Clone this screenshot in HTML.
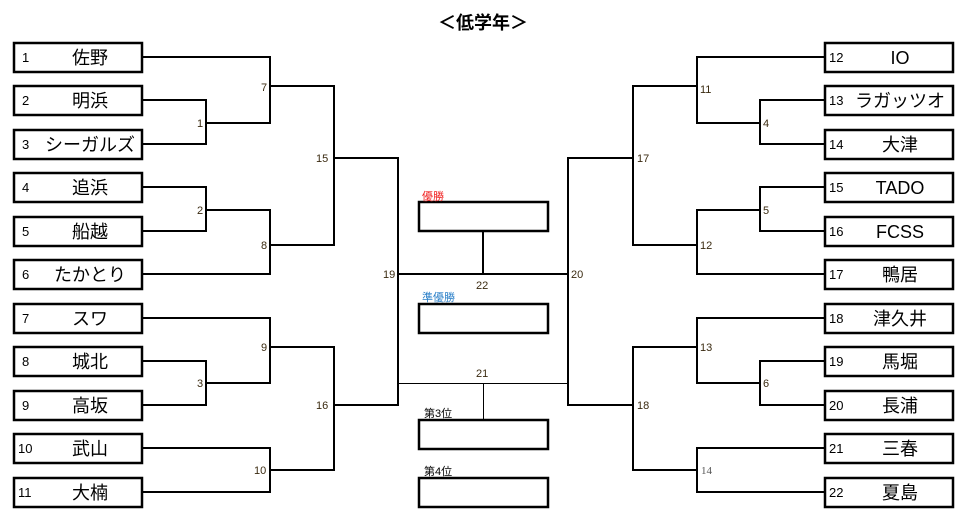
<!DOCTYPE html>
<html><head><meta charset="utf-8"><style>
html,body{margin:0;padding:0;background:#fff;}
svg{display:block;font-family:"Liberation Sans","Noto Sans CJK JP",sans-serif;}
.b{fill:#fff;stroke:#000;stroke-width:2.5;}
.l{fill:none;stroke:#000;stroke-width:2;}
.n{font-size:13px;fill:#000;}
.t{font-size:18px;fill:#000;text-anchor:middle;}
.m{font-size:11px;fill:#3a2a10;}
</style></head><body>
<svg width="964" height="522" viewBox="0 0 964 522">
<text x="483" y="29" text-anchor="middle" font-size="18" font-weight="bold">＜低学年＞</text>
<!-- left boxes -->
<g>
<rect class="b" x="14" y="43" width="128" height="29"/><text class="n" x="22" y="62">1</text><text class="t" x="90" y="64">佐野</text>
<rect class="b" x="14" y="86" width="128" height="29"/><text class="n" x="22" y="105">2</text><text class="t" x="90" y="107">明浜</text>
<rect class="b" x="14" y="130" width="128" height="29"/><text class="n" x="22" y="149">3</text><text class="t" x="90" y="151">シーガルズ</text>
<rect class="b" x="14" y="173" width="128" height="29"/><text class="n" x="22" y="192">4</text><text class="t" x="90" y="194">追浜</text>
<rect class="b" x="14" y="217" width="128" height="29"/><text class="n" x="22" y="236">5</text><text class="t" x="90" y="238">船越</text>
<rect class="b" x="14" y="260" width="128" height="29"/><text class="n" x="22" y="279">6</text><text class="t" x="90" y="281">たかとり</text>
<rect class="b" x="14" y="304" width="128" height="29"/><text class="n" x="22" y="323">7</text><text class="t" x="90" y="325">スワ</text>
<rect class="b" x="14" y="347" width="128" height="29"/><text class="n" x="22" y="366">8</text><text class="t" x="90" y="368">城北</text>
<rect class="b" x="14" y="391" width="128" height="29"/><text class="n" x="22" y="410">9</text><text class="t" x="90" y="412">高坂</text>
<rect class="b" x="14" y="434" width="128" height="29"/><text class="n" x="18" y="453">10</text><text class="t" x="90" y="455">武山</text>
<rect class="b" x="14" y="478" width="128" height="29"/><text class="n" x="18" y="497">11</text><text class="t" x="90" y="499">大楠</text>
</g>
<!-- right boxes -->
<g>
<rect class="b" x="825" y="43" width="128" height="29"/><text class="n" x="829" y="62">12</text><text class="t" x="900" y="64">IO</text>
<rect class="b" x="825" y="86" width="128" height="29"/><text class="n" x="829" y="105">13</text><text class="t" x="900" y="107">ラガッツオ</text>
<rect class="b" x="825" y="130" width="128" height="29"/><text class="n" x="829" y="149">14</text><text class="t" x="900" y="151">大津</text>
<rect class="b" x="825" y="173" width="128" height="29"/><text class="n" x="829" y="192">15</text><text class="t" x="900" y="194">TADO</text>
<rect class="b" x="825" y="217" width="128" height="29"/><text class="n" x="829" y="236">16</text><text class="t" x="900" y="238">FCSS</text>
<rect class="b" x="825" y="260" width="128" height="29"/><text class="n" x="829" y="279">17</text><text class="t" x="900" y="281">鴨居</text>
<rect class="b" x="825" y="304" width="128" height="29"/><text class="n" x="829" y="323">18</text><text class="t" x="900" y="325">津久井</text>
<rect class="b" x="825" y="347" width="128" height="29"/><text class="n" x="829" y="366">19</text><text class="t" x="900" y="368">馬堀</text>
<rect class="b" x="825" y="391" width="128" height="29"/><text class="n" x="829" y="410">20</text><text class="t" x="900" y="412">長浦</text>
<rect class="b" x="825" y="434" width="128" height="29"/><text class="n" x="829" y="453">21</text><text class="t" x="900" y="455">三春</text>
<rect class="b" x="825" y="478" width="128" height="29"/><text class="n" x="829" y="497">22</text><text class="t" x="900" y="499">夏島</text>
</g>
<!-- left brackets -->
<path class="l" d="M142 57H270V123H206 M142 100H206V144H142 M270 86H334V245H270 M142 187H206V231H142 M206 210H270V274H142 M334 158H398V405H334"/>
<path class="l" d="M142 318H270V383H206 M142 361H206V405H142 M270 347H334V470H270 M142 448H270V492H142"/>
<!-- right brackets -->
<path class="l" d="M825 57H697V123H760 M825 100H760V144H825 M697 86H633V245H697 M825 187H760V231H825 M760 210H697V274H825 M633 158H568V405H633"/>
<path class="l" d="M825 318H697V383H760 M825 361H760V405H825 M697 347H633V470H697 M825 448H697V492H825"/>
<!-- center -->
<path class="l" d="M398 274H568 M483 231V274"/>
<path fill="none" stroke="#000" stroke-width="1" d="M398 383.5H568 M483.5 383V420"/>
<rect class="b" x="419" y="202" width="129" height="29"/>
<rect class="b" x="419" y="304" width="129" height="29"/>
<rect class="b" x="419" y="420" width="129" height="29"/>
<rect class="b" x="419" y="478" width="129" height="29"/>
<text x="422" y="200" font-size="11" fill="#f02020">優勝</text>
<text x="422" y="301" font-size="11" fill="#2a7fc8">準優勝</text>
<text x="424" y="417" font-size="11">第3位</text>
<text x="424" y="475" font-size="11">第4位</text>
<!-- match labels -->
<g class="m">
<text x="261" y="91">7</text><text x="197" y="127">1</text><text x="316" y="162">15</text>
<text x="197" y="214">2</text><text x="261" y="249">8</text><text x="383" y="278">19</text>
<text x="261" y="351">9</text><text x="197" y="387">3</text><text x="316" y="409">16</text><text x="254" y="474">10</text>
<text x="700" y="93">11</text><text x="763" y="127">4</text><text x="637" y="162">17</text>
<text x="763" y="214">5</text><text x="700" y="249">12</text><text x="571" y="278">20</text>
<text x="700" y="351">13</text><text x="763" y="387">6</text><text x="637" y="409">18</text>
<text x="701" y="474" font-family="Liberation Serif,serif" fill="#555">14</text>
<text x="476" y="289">22</text><text x="476" y="377">21</text>
</g>
</svg>
</body></html>
